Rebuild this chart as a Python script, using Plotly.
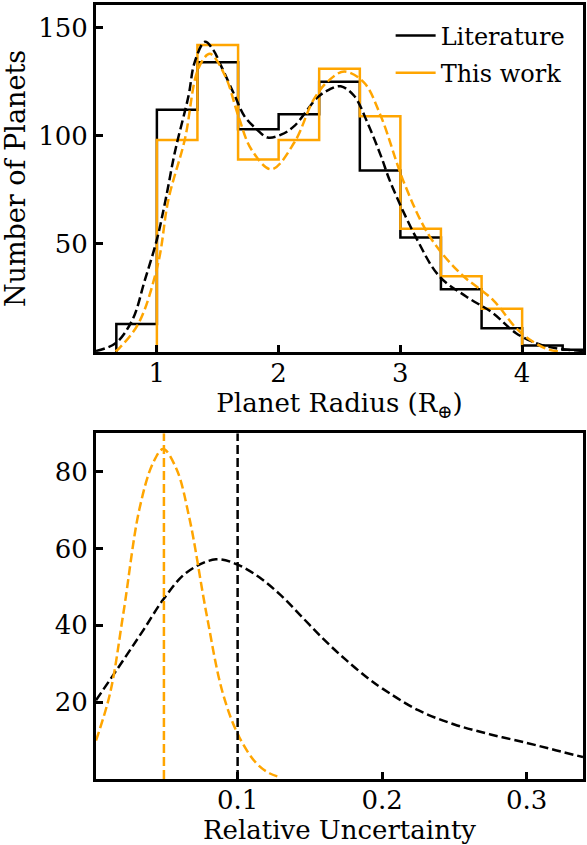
import plotly.graph_objects as go

# ---------------- data ----------------
lit_edges = [0.667, 1.0, 1.333, 1.667, 2.0, 2.333, 2.667, 3.0, 3.333, 3.667, 4.0, 4.333, 4.667]
lit_counts = [13, 112, 134, 103, 110, 125, 84, 53, 29, 11, 3, 1]
this_edges = [1.0, 1.333, 1.667, 2.0, 2.333, 2.667, 3.0, 3.333, 3.667, 4.0]
this_counts = [98, 142, 89, 98, 131, 109, 57, 35, 20]

lit_kde_x = [0.5, 0.66, 0.8, 0.9, 1.0, 1.07, 1.15, 1.26, 1.31, 1.395, 1.46, 1.53, 1.64, 1.72, 1.82,
             1.91, 2.02, 2.13, 2.32, 2.42, 2.51, 2.62, 2.73, 2.84, 2.92, 3.13, 3.32, 3.54, 3.76,
             3.95, 4.14, 4.3, 4.5]
lit_kde_y = [0.5, 4, 15, 33, 52, 70, 93, 118.5, 134, 143.5, 140, 132, 118.5, 109, 103,
             99.2, 100.5, 104.6, 117.8, 121.5, 122.9, 118.5, 106, 90.7, 78.3, 52.8, 35, 25.7, 18,
             8.7, 3.6, 1.5, 0.5]
this_kde_x = [0.66, 0.69, 0.85, 1.01, 1.095, 1.23, 1.34, 1.435, 1.56, 1.67, 1.775, 1.94, 2.13,
              2.29, 2.42, 2.54, 2.70, 2.84, 3.03, 3.24, 3.49, 3.76, 3.98, 4.19, 4.3]
this_kde_y = [0.3, 1.7, 13.3, 41, 70.6, 98.4, 131, 137.9, 127.8, 109, 93.8, 84.5, 97,
              117, 126, 129.7, 124.7, 109, 78.3, 53.5, 36.5, 24.1, 9.4, 1.7, 0.3]

lit_unc_x = [0.002, 0.021, 0.035, 0.0485, 0.0645, 0.085, 0.1, 0.115, 0.13, 0.145, 0.16, 0.175,
             0.19, 0.2, 0.225, 0.25, 0.275, 0.3, 0.32, 0.339]
lit_unc_y = [20.5, 31, 38.9, 46.7, 53.7, 57.2, 55.8, 52.5, 47.8, 42.0, 36.2, 31.0,
             26.3, 23.6, 17.9, 14.2, 11.6, 9.4, 7.5, 5.7]
this_unc_x = [0.002, 0.0118, 0.021, 0.032, 0.0416, 0.0485, 0.0577, 0.0668, 0.0783, 0.0897,
              0.101, 0.113, 0.122, 0.13]
this_unc_y = [10, 22.4, 43.3, 70.2, 82.4, 85.9, 80.7, 67.6, 43.3, 22.4,
              11, 4.1, 1.5, 0.4]

lit_median = 0.1
this_median = 0.049

LIT_COLOR = "black"
THIS_COLOR = "orange"
FONT = "DejaVu Serif"
TICK_SIZE = 26
XTITLE_SIZE = 26
YTITLE_SIZE = 27


def step_path(edges, counts):
    xs, ys = [edges[0]], [0]
    for i, c in enumerate(counts):
        xs += [edges[i], edges[i + 1]]
        ys += [c, c]
    xs.append(edges[-1])
    ys.append(0)
    return xs, ys


fig = go.Figure()

lx, ly = step_path(lit_edges, lit_counts)
tx, ty = step_path(this_edges, this_counts)

DASH = "9px,4px"

fig.add_trace(go.Scatter(x=lx, y=ly, mode="lines", name="Literature",
                         line=dict(color=LIT_COLOR, width=2.5), xaxis="x", yaxis="y",
                         legendgroup="a"))
fig.add_trace(go.Scatter(x=tx, y=ty, mode="lines", name="This work",
                         line=dict(color=THIS_COLOR, width=2.5), xaxis="x", yaxis="y",
                         legendgroup="b"))
fig.add_trace(go.Scatter(x=lit_kde_x, y=lit_kde_y, mode="lines", showlegend=False,
                         line=dict(color=LIT_COLOR, width=2.5, dash=DASH, shape="spline"),
                         xaxis="x", yaxis="y"))
fig.add_trace(go.Scatter(x=this_kde_x, y=this_kde_y, mode="lines", showlegend=False,
                         line=dict(color=THIS_COLOR, width=2.5, dash=DASH, shape="spline"),
                         xaxis="x", yaxis="y"))

fig.add_trace(go.Scatter(x=lit_unc_x, y=lit_unc_y, mode="lines", showlegend=False,
                         line=dict(color=LIT_COLOR, width=2.5, dash=DASH, shape="spline"),
                         xaxis="x2", yaxis="y2"))
fig.add_trace(go.Scatter(x=this_unc_x, y=this_unc_y, mode="lines", showlegend=False,
                         line=dict(color=THIS_COLOR, width=2.5, dash=DASH, shape="spline"),
                         xaxis="x2", yaxis="y2"))
fig.add_trace(go.Scatter(x=[lit_median, lit_median], y=[0, 90], mode="lines", showlegend=False,
                         line=dict(color=LIT_COLOR, width=2.5, dash=DASH),
                         xaxis="x2", yaxis="y2"))
fig.add_trace(go.Scatter(x=[this_median, this_median], y=[0, 90], mode="lines", showlegend=False,
                         line=dict(color=THIS_COLOR, width=2.5, dash=DASH),
                         xaxis="x2", yaxis="y2"))

axis_common = dict(showline=True, linecolor="black", linewidth=3, mirror=True,
                   ticks="inside", ticklen=7, tickwidth=2.5, tickcolor="black",
                   showgrid=False, zeroline=False,
                   tickfont=dict(family=FONT, size=TICK_SIZE, color="black"))

top_bottom = (779 - 352) / 774
bot_top = (779 - 433.3) / 774

fig.update_layout(
    width=587, height=845,
    margin=dict(l=96, r=1, t=5, b=66),
    paper_bgcolor="white", plot_bgcolor="white",
    font=dict(family=FONT, size=TICK_SIZE, color="black"),
    xaxis=dict(domain=[0, 1], anchor="y", range=[0.5, 4.5], tickvals=[1, 2, 3, 4],
               ticklabelstandoff=-4,
               title=dict(text="Planet Radius (R<sub>⊕</sub>)",
                          font=dict(family=FONT, size=XTITLE_SIZE), standoff=0),
               **axis_common),
    yaxis=dict(domain=[top_bottom, 1], anchor="x", range=[0, 160.5], tickvals=[50, 100, 150],
               title=dict(text="Number of Planets", font=dict(family=FONT, size=YTITLE_SIZE),
                          standoff=5),
               **axis_common),
    xaxis2=dict(domain=[0, 1], anchor="y2", range=[0.002, 0.339], tickvals=[0.1, 0.2, 0.3],
                ticklabelstandoff=-4,
                title=dict(text="Relative Uncertainty", font=dict(family=FONT, size=XTITLE_SIZE),
                           standoff=1),
                **axis_common),
    yaxis2=dict(domain=[0, bot_top], anchor="x2", range=[0, 90], tickvals=[20, 40, 60, 80],
                **axis_common),
    legend=dict(x=0.605, y=0.989, xanchor="left", yanchor="top", bgcolor="rgba(0,0,0,0)",
                itemwidth=40,
                font=dict(family=FONT, size=24, color="black"), tracegroupgap=3),
    showlegend=True,
)

fig.write_html("out.html")
